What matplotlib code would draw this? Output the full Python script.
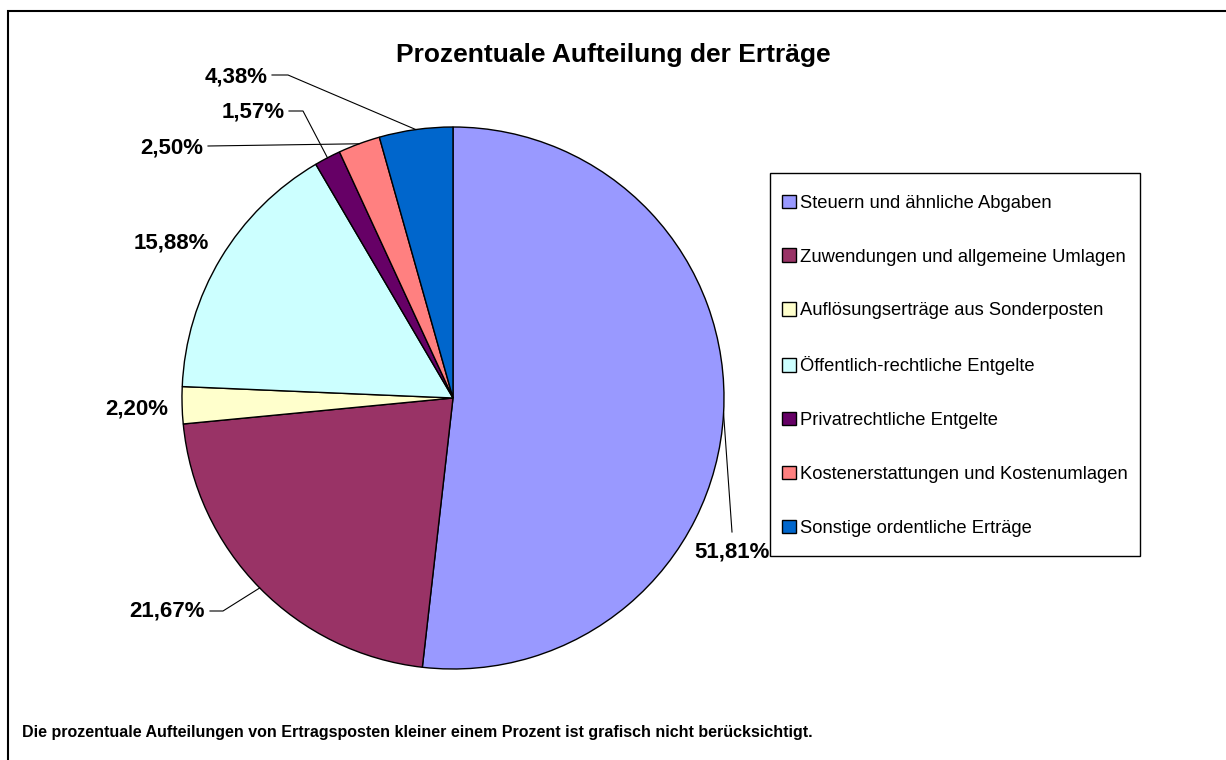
import numpy as np
import matplotlib
matplotlib.use("Agg")
import matplotlib.pyplot as plt

plt.rcParams['font.family'] = ['Liberation Sans', 'DejaVu Sans']

categories = [
    "Steuern und ähnliche Abgaben",
    "Zuwendungen und allgemeine Umlagen",
    "Auflösungserträge aus Sonderposten",
    "Öffentlich-rechtliche Entgelte",
    "Privatrechtliche Entgelte",
    "Kostenerstattungen und Kostenumlagen",
    "Sonstige ordentliche Erträge",
]
shares = [51.81, 21.67, 2.20, 15.88, 1.57, 2.50, 4.38]
colors = ["#9999FF", "#993366", "#FFFFCC", "#CCFFFF", "#660066", "#FF8080", "#0066CC"]

W, H = 1226, 760

def Y(y):
    # picture rows run downwards, axes upwards
    return H - y

# label anchor (x, y, ha) and leader bends in picture pixels
label_pos = [(732, 552, "center"), (205, 611, "right"), (168, 409, "right"),
             (209, 243, "right"), (285, 112, "right"), (203, 148, "right"),
             (268, 77, "right")]
leaders = [[(732, 532)], [(223, 611), (210, 611)], [], [],
           [(303, 111), (289, 111)], [(208, 146)], [(288, 75), (272, 75)]]

fig = plt.figure(figsize=(W / 100, H / 100), dpi=100)
ax = fig.add_axes([0, 0, 1, 1])

cx, cy, r = 453, Y(398), 271
wedges, _ = ax.pie(shares, colors=colors, startangle=90, counterclock=False,
                   center=(cx, cy), radius=r,
                   wedgeprops=dict(edgecolor="black", linewidth=1))
ax.set_aspect("auto")
ax.set_xlim(0, W)
ax.set_ylim(0, H)
ax.axis("off")

for w, v, (lx, ly, ha), bend in zip(wedges, shares, label_pos, leaders):
    txt = f"{v:.2f}%".replace(".", ",")
    ax.text(lx, Y(ly), txt, ha=ha, va="center", fontsize=16, fontweight="bold")
    if bend:
        mid = np.deg2rad((w.theta1 + w.theta2) / 2)
        ex, ey = cx + r * np.cos(mid), cy + r * np.sin(mid)
        xs = [ex] + [b[0] for b in bend]
        ys = [ey] + [Y(b[1]) for b in bend]
        ax.plot(xs, ys, color="black", lw=0.8)

ax.text(613, Y(55), "Prozentuale Aufteilung der Erträge", ha="center", va="center",
        fontsize=19, fontweight="bold")

ax.text(22, Y(733), "Die prozentuale Aufteilungen von Ertragsposten kleiner einem Prozent "
        "ist grafisch nicht berücksichtigt.", ha="left", va="center",
        fontsize=11.5, fontweight="bold")

# legend
ax.add_patch(plt.Rectangle((770, Y(556)), 370, 383, fill=False, edgecolor="black", lw=1))
leg = ax.legend(wedges, categories, loc="upper left",
                bbox_to_anchor=(782 / W, Y(194.5) / H), bbox_transform=fig.transFigure,
                frameon=False, borderpad=0, borderaxespad=0, fontsize=13.2,
                labelspacing=2.0, handlelength=0.77, handleheight=0.77,
                handletextpad=0.22)

# outer chart border (left and top only visible)
ax.plot([8, 8, W], [0, Y(11), Y(11)], color="black", lw=1.5, solid_joinstyle="miter")

fig.savefig("out.png", dpi=100)
